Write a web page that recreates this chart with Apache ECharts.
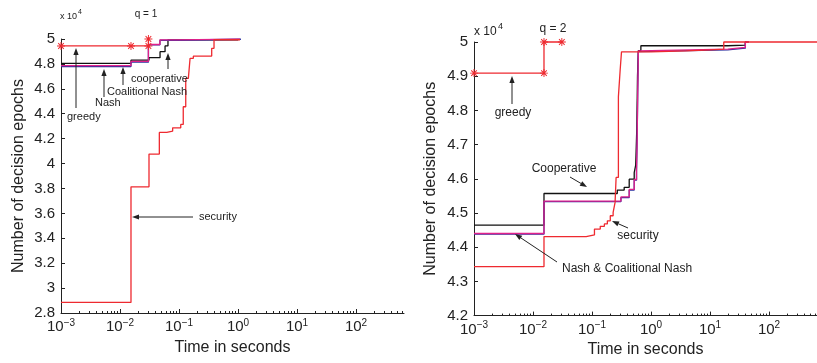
<!DOCTYPE html>
<html><head><meta charset="utf-8">
<script src="https://cdn.jsdelivr.net/npm/echarts@6/dist/echarts.min.js"></script>
<style>html,body{margin:0;padding:0;background:#fff}#c{width:817px;height:363px}</style>
</head><body><div id="c"></div>
<script>
// ---------- data (values in units of 10^4 decision epochs, time in seconds) ----------
const decadeTicks = [0.001, 0.01, 0.1, 1, 10, 100];
const minorTicks = [0.002,0.003,0.004,0.005,0.006,0.007,0.008,0.009,
  0.02,0.03,0.04,0.05,0.06,0.07,0.08,0.09,
  0.2,0.3,0.4,0.5,0.6,0.7,0.8,0.9,
  2,3,4,5,6,7,8,9, 20,30,40,50,60,70,80,90, 200,300,400,500,600];

// q = 1 panel
const q1GreedyT = [0.001, 0.01535, 0.0303, 0.0303];
const q1GreedyV = [4.944, 4.944, 4.944, 5.0];
const q1NashT = [0.001, 0.01535, 0.0303, 0.0475, 0.09, 1.12];
const q1NashV = [4.779, 4.814, 4.953, 4.990, 4.998, 4.998];
const q1CoalT = [0.001, 0.01535, 0.0303, 0.0475, 0.09, 1.08];
const q1CoalV = [4.786, 4.820, 4.956, 4.993, 4.999, 4.999];
const q1CoopT = [0.001, 0.01535, 0.031, 0.0477, 0.058, 0.065, 1.0];
const q1CoopV = [4.804, 4.830, 4.850, 4.898, 4.944, 4.993, 4.999];
const q1SecT = [0.001, 0.01535, 0.031, 0.0464, 0.062, 0.078, 0.107, 0.118, 0.130, 0.144, 0.154, 0.175, 0.358, 0.392, 1.08];
const q1SecV = [2.885, 3.813, 4.076, 4.250, 4.260, 4.287, 4.314, 4.456, 4.684, 4.697, 4.845, 4.863, 4.925, 4.994, 4.994];

// q = 2 panel
const q2GreedyT = [0.001, 0.01535, 0.01535, 0.0308];
const q2GreedyV = [4.909, 4.909, 5.0, 5.0];
const q2CoopT = [0.001, 0.01535, 0.21, 0.268, 0.351, 0.427, 0.519, 0.55, 0.575, 0.59, 0.61, 0.673, 20, 39.7, 45];
const q2CoopV = [4.4645, 4.557, 4.557, 4.567, 4.575, 4.599, 4.618, 4.64, 4.75, 4.90, 4.975, 4.989, 4.991, 5.0, 5.0];
const q2CoalT = [0.001, 0.01535, 0.223, 0.309, 0.427, 0.519, 0.568, 0.58, 0.595, 0.61, 0.65, 20, 39.7, 45];
const q2CoalV = [4.440, 4.535, 4.535, 4.547, 4.569, 4.598, 4.627, 4.70, 4.85, 4.974, 4.979, 4.984, 5.0, 5.0];
const q2NashT = [0.001, 0.01535, 0.223, 0.309, 0.427, 0.519, 0.568, 0.58, 0.595, 0.61, 0.65, 20, 39.7, 45];
const q2NashV = [4.438, 4.533, 4.533, 4.545, 4.567, 4.596, 4.625, 4.70, 4.85, 4.972, 4.977, 4.982, 5.0, 5.0];
const q2SecT = [0.001, 0.01535, 0.0796, 0.11, 0.138, 0.162, 0.182, 0.204, 0.228, 0.246, 0.256, 0.28, 0.30, 0.316, 1, 4, 10, 17.1, 650];
const q2SecV = [4.343, 4.431, 4.436, 4.453, 4.461, 4.468, 4.477, 4.492, 4.502, 4.531, 4.604, 4.84, 4.918, 4.971, 4.974, 4.977, 4.979, 5.0, 5.0];

// ---------- styling ----------
const FONT = '"Liberation Sans", Arial, Helvetica, sans-serif';
const INK = '#222';
const RED = '#ee2a30', MAG = '#e0218a', BLUE = '#2b2f9e', BLACK = '#111';
const zip = (t, v) => t.map((x, i) => [x, v[i]]);
const asterisk = 'path://M-5,-0.6H5V0.6H-5Z M-0.6,-5H0.6V5H-0.6Z M-3.11,-3.96L3.96,3.11L3.11,3.96L-3.96,-3.11Z M-3.96,3.11L3.11,-3.96L3.96,-3.11L-3.11,3.96Z';

function stepSeries(name, t, v, color, xi, extra) {
  return Object.assign({
    name, type: 'line', step: 'end', xAxisIndex: xi, yAxisIndex: xi / 2,
    data: zip(t, v), showSymbol: false, symbol: 'none',
    lineStyle: { color, width: 1.3 }, itemStyle: { color },
    clip: false, animation: false
  }, extra || {});
}

function xAxes(gridIndex, nameGap) {
  const fmt = v => {
    const e = Math.round(Math.log10(v));
    return '{b|10}{s|' + (e < 0 ? '\u2212' + (-e) : e) + '}';
  };
  return [{
    type: 'log', logBase: 10, gridIndex, min: 0.001, max: 650, position: 'bottom',
    axisLine: { show: true, onZero: false, lineStyle: { color: INK, width: 1 } },
    axisTick: { show: true, inside: true, length: 4, customValues: decadeTicks, lineStyle: { color: INK } },
    axisLabel: { customValues: decadeTicks, formatter: fmt, margin: 5, color: INK,
      rich: { b: { fontSize: 15, fontFamily: FONT, color: INK, lineHeight: 18 },
              s: { fontSize: 10, fontFamily: FONT, color: INK, verticalAlign: 'top', lineHeight: 12 } } },
    splitLine: { show: false }, minorTick: { show: false },
    name: 'Time in seconds', nameLocation: 'middle', nameGap,
    nameTextStyle: { fontSize: 16, fontFamily: FONT, color: INK }
  }, {
    type: 'log', logBase: 10, gridIndex, min: 0.001, max: 650, position: 'bottom',
    axisLine: { show: false, onZero: false },
    axisTick: { show: true, inside: true, length: 2, customValues: minorTicks, lineStyle: { color: INK } },
    axisLabel: { show: false }, splitLine: { show: false }
  }];
}

function yAxis(gridIndex, min, max, interval, nameGap) {
  return {
    type: 'value', gridIndex, min, max, interval,
    axisLine: { show: true, onZero: false, lineStyle: { color: INK, width: 1 } },
    axisTick: { show: true, inside: true, length: 4, lineStyle: { color: INK } },
    axisLabel: { fontSize: 15, fontFamily: FONT, color: INK, margin: 6 },
    splitLine: { show: false },
    name: 'Number of decision epochs', nameLocation: 'middle', nameGap,
    nameTextStyle: { fontSize: 16, fontFamily: FONT, color: INK }
  };
}

// annotation helpers (pixel-positioned labels and arrows)
function txt(text, x, y, size, align) {
  return { type: 'text', z: 100, style: { text, x, y, fill: INK, font: size + 'px ' + FONT, align: align || 'left', verticalAlign: 'middle' } };
}
function arrow(x1, y1, x2, y2) {
  const a = Math.atan2(y2 - y1, x2 - x1), L = 7, W = 2.6;
  const c = Math.cos(a), s = Math.sin(a);
  const bx = x2 - L * c, by = y2 - L * s;
  return [
    { type: 'line', z: 100, shape: { x1, y1, x2: bx, y2: by }, style: { stroke: INK, lineWidth: 1 } },
    { type: 'polygon', z: 100, shape: { points: [[x2, y2], [bx + W * s, by - W * c], [bx - W * s, by + W * c]] }, style: { fill: INK } }
  ];
}

const graphics = [].concat(
  // left panel
  [txt('x 10', 60, 17, 9), txt('4', 78, 12, 7), txt('q = 1', 146, 14, 10, 'center'),
   txt('greedy', 67, 117, 11), txt('Nash', 95, 103, 11), txt('Coalitional Nash', 107, 92, 11),
   txt('cooperative', 131, 79, 11), txt('security', 199, 217, 11)],
  arrow(76, 108, 76, 48), arrow(104, 97, 104, 69), arrow(123, 85, 123, 67), arrow(168, 69, 168, 53),
  arrow(193, 217, 132, 217),
  // right panel
  [txt('x 10', 474, 32, 12), txt('4', 498, 27, 9), txt('q = 2', 553, 29, 12, 'center'),
   txt('greedy', 513, 113, 12, 'center'), txt('Cooperative', 564, 169, 12, 'center'),
   txt('security', 638, 236, 12, 'center'), txt('Nash & Coalitional Nash', 562, 269, 12)],
  arrow(512, 104, 512, 76), arrow(570, 177, 587, 187), arrow(628, 228, 612, 221), arrow(557, 262, 515, 234)
);

const chart = echarts.init(document.getElementById('c'), null, { renderer: 'canvas' });
chart.setOption({
  animation: false,
  backgroundColor: '#fff',
  grid: [
    { left: 61, top: 39, width: 343, height: 274, containLabel: false },
    { left: 474, top: 42, width: 343, height: 275, containLabel: false }
  ],
  xAxis: [].concat(xAxes(0, 27), xAxes(1, 24)),
  yAxis: [yAxis(0, 2.8, 5, 0.2, 34), yAxis(1, 4.2, 5, 0.1, 35)],
  series: [
    stepSeries('Cooperative', q1CoopT, q1CoopV, BLACK, 0),
    stepSeries('Nash', q1NashT, q1NashV, BLUE, 0),
    stepSeries('Coalitional Nash', q1CoalT, q1CoalV, MAG, 0),
    stepSeries('security', q1SecT, q1SecV, RED, 0),
    stepSeries('greedy', q1GreedyT, q1GreedyV, RED, 0, { showSymbol: true, symbol: asterisk, symbolSize: 8 }),
    stepSeries('Cooperative', q2CoopT, q2CoopV, BLACK, 2),
    stepSeries('Nash', q2NashT, q2NashV, BLUE, 2),
    stepSeries('Coalitional Nash', q2CoalT, q2CoalV, MAG, 2),
    stepSeries('security', q2SecT, q2SecV, RED, 2),
    stepSeries('greedy', q2GreedyT, q2GreedyV, RED, 2, { showSymbol: true, symbol: asterisk, symbolSize: 8 })
  ],
  graphic: graphics
});
</script></body></html>
